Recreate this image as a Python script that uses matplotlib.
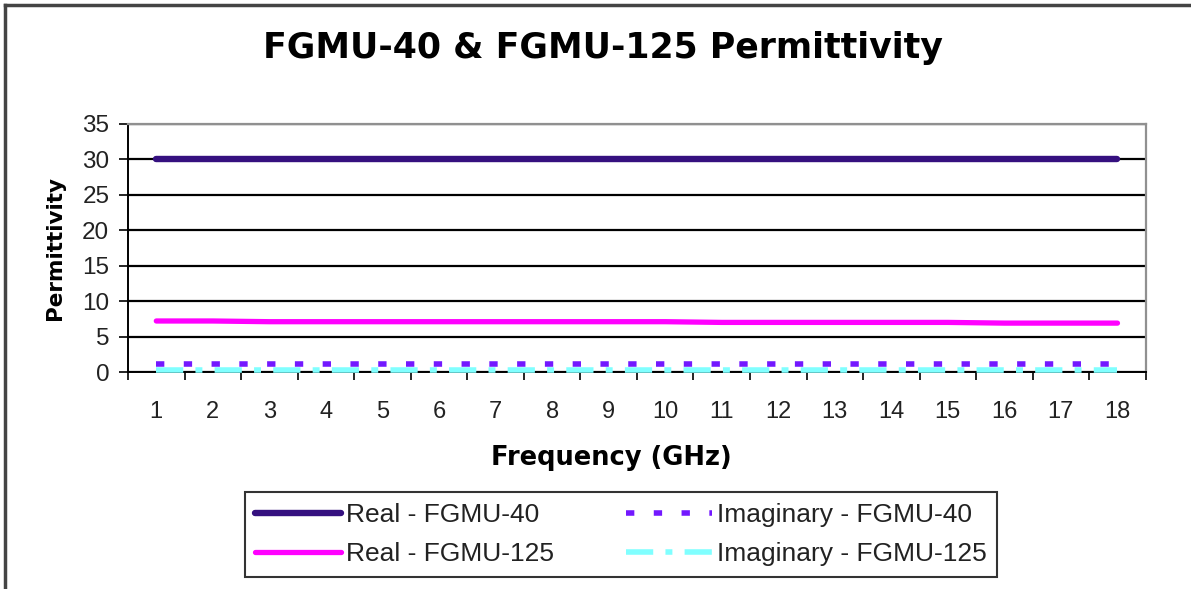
import numpy as np
import matplotlib.pyplot as plt
from matplotlib.lines import Line2D

# data
freq = np.arange(1, 19)  # GHz
real_40 = [30.0] * 18
imag_40 = [1.1] * 18
real_125 = [7.2, 7.2, 7.1, 7.1, 7.1, 7.1, 7.1, 7.1, 7.1,
            7.1, 7.0, 7.0, 7.0, 7.0, 7.0, 6.9, 6.9, 6.9]
imag_125 = [0.3] * 18

yticks = [0, 5, 10, 15, 20, 25, 30, 35]

fig = plt.figure(figsize=(11.91, 5.89), dpi=100)
ax = fig.add_axes([0.1075, 0.3684, 0.8545, 0.4211])

l1, = ax.plot(freq, real_40, color='#35107F', lw=4.6, solid_capstyle='round',
              label='Real - FGMU-40', zorder=3)
l2, = ax.plot(freq, imag_40, color='#7318FF', lw=4.0, dashes=(1.5, 3.5),
              label='Imaginary - FGMU-40', zorder=3)
l3, = ax.plot(freq, real_125, color='#FF00FF', lw=3.8, solid_capstyle='round',
              label='Real - FGMU-125', zorder=3)
l4, = ax.plot(freq, imag_125, color='#80FFFF', lw=4.0, dashes=(4.9, 2.2, 1.25, 2.2),
              label='Imaginary - FGMU-125', zorder=4, clip_on=False)

# categories sit between the tick marks, like an Excel category axis
ax.set_xlim(0.5, 18.5)
ax.set_ylim(0, 35)
ax.set_yticks(yticks)
ax.set_xticks(freq)
ax.set_xticks(np.arange(0.5, 19, 1), minor=True)
ax.tick_params(axis='x', which='major', length=0, pad=21, labelsize=17)
ax.tick_params(axis='x', which='minor', length=6, width=1.2, direction='out')
ax.tick_params(axis='y', length=6.5, width=1.2, direction='out', pad=7, labelsize=17.5)
for lab in ax.get_xticklabels() + ax.get_yticklabels():
    lab.set_fontfamily('Liberation Sans')
    lab.set_color('#222222')

ax.grid(axis='y', color='black', lw=1.6)
for s in ['left', 'bottom']:
    ax.spines[s].set_color('black')
    ax.spines[s].set_linewidth(1.4)
for s in ['top', 'right']:
    ax.spines[s].set_color('#909090')
    ax.spines[s].set_linewidth(1.6)

ax.set_ylabel('Permittivity', fontsize=15.5, fontweight='bold', labelpad=12)
ax.set_xlabel('Frequency (GHz)', fontsize=18.5, fontweight='bold', labelpad=16)
ax.xaxis.label.set_x(0.4745)
fig.text(0.506, 0.918, 'FGMU-40 & FGMU-125 Permittivity', ha='center', va='center',
         fontsize=25, fontweight='bold')

leg = fig.legend(handles=[l1, l3, l2, l4], ncol=2, loc='center',
                 bbox_to_anchor=(0.5214, 0.0925), frameon=True, fancybox=False,
                 prop={'family': 'Liberation Sans', 'size': 19},
                 handlelength=3.25, handletextpad=0.2, columnspacing=2.7,
                 labelspacing=0.57, borderpad=0.4, borderaxespad=0)
leg.get_frame().set_edgecolor('black')
leg.get_frame().set_linewidth(1.5)
for t in leg.get_texts():
    t.set_color('#222222')

# outer chart border (only top and left edges are visible in the crop)
fig.add_artist(Line2D([0.0045, 0.0045], [0, 0.992], transform=fig.transFigure,
                      color='#444444', lw=2.5))
fig.add_artist(Line2D([0.0045, 1], [0.992, 0.992], transform=fig.transFigure,
                      color='#444444', lw=2.5))

fig.savefig('out.png', dpi=100)
